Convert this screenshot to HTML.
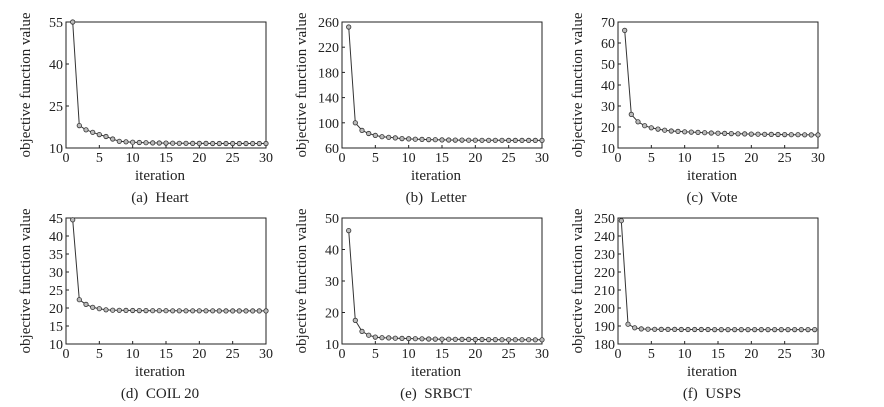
<!DOCTYPE html>
<html><head><meta charset="utf-8"><style>
html,body{margin:0;padding:0;background:#fff;}
svg{display:block;font-family:"Liberation Serif",serif;}
</style></head><body>
<svg id="s" width="884" height="407" xmlns="http://www.w3.org/2000/svg"></svg>
<script>
function dec(a,b,n,k){var r=[];for(var i=0;i<n;i++)r.push(b+(a-b)*Math.exp(-k*i));return r;}
var panels=[
 {x:66,y:22,lo:10,hi:55,ticks:[10,25,40,55],cap:"(a)  Heart",d:[55,18,16.5,15.6,14.8,14.1,13.2,12.4].concat(dec(12.2,11.6,22,0.25)),off:0},
 {x:342,y:22,lo:60,hi:260,ticks:[60,100,140,180,220,260],cap:"(b)  Letter",d:[252,100,88,83,80,78,77,76].concat(dec(75,72,22,0.2)),off:0},
 {x:618,y:22,lo:10,hi:70,ticks:[10,20,30,40,50,60,70],cap:"(c)  Vote",d:[66,26,22.5,20.6,19.6,19,18.5].concat(dec(18.1,16,23,0.1)),off:0},
 {x:66,y:218,lo:10,hi:45,ticks:[10,15,20,25,30,35,40,45],cap:"(d)  COIL 20",d:[44.5,22.3,21,20.2,19.8,19.5].concat(dec(19.4,19.2,24,0.2)),off:0},
 {x:342,y:218,lo:10,hi:50,ticks:[10,20,30,40,50],cap:"(e)  SRBCT",d:[46,17.5,14,12.8,12.2].concat(dec(12,11.3,25,0.12)),off:0},
 {x:618,y:218,lo:180,hi:250,ticks:[180,190,200,210,220,230,240,250],cap:"(f)  USPS",d:[248.5,191,189,188.4].concat(dec(188.2,188,26,0.2)),off:-0.5}
];
var W=200,H=126,h='';
panels.forEach(function(p){
 var X=function(v){return p.x+v/30*W;},Y=function(v){return p.y+H-(v-p.lo)/(p.hi-p.lo)*H;};
 h+='<rect x="'+p.x+'" y="'+p.y+'" width="'+W+'" height="'+H+'" fill="none" stroke="#222" stroke-width="1"/>';
 for(var t=0;t<=30;t+=5){h+='<line x1="'+X(t)+'" y1="'+(p.y+H)+'" x2="'+X(t)+'" y2="'+(p.y+H-3)+'" stroke="#222"/>';
  h+='<text x="'+X(t)+'" y="'+(p.y+H+14)+'" font-size="14" text-anchor="middle" fill="#222">'+t+'</text>';}
 p.ticks.forEach(function(t){h+='<line x1="'+p.x+'" y1="'+Y(t)+'" x2="'+(p.x+3)+'" y2="'+Y(t)+'" stroke="#222"/>';
  h+='<text x="'+(p.x-3)+'" y="'+(Y(t)+5)+'" font-size="14" text-anchor="end" fill="#222">'+t+'</text>';});
 var pts=p.d.map(function(v,i){return X(i+1+p.off).toFixed(1)+','+Y(v).toFixed(1);});
 h+='<polyline points="'+pts.join(' ')+'" fill="none" stroke="#333" stroke-width="1"/>';
 pts.forEach(function(q){var c=q.split(',');h+='<circle cx="'+c[0]+'" cy="'+c[1]+'" r="2.2" fill="#bbb" stroke="#333" stroke-width="0.8"/>';});
 h+='<text transform="translate('+(p.x-36)+','+(p.y+H/2)+') rotate(-90)" font-size="15" text-anchor="middle" fill="#222">objective function value</text>';
 h+='<text x="'+(p.x+W/2-6)+'" y="'+(p.y+H+32)+'" font-size="15" text-anchor="middle" fill="#222">iteration</text>';
 h+='<text x="'+(p.x+W/2-6)+'" y="'+(p.y+H+54)+'" font-size="15" text-anchor="middle" fill="#222" xml:space="preserve">'+p.cap+'</text>';
});
document.getElementById('s').innerHTML=h;
</script>
</body></html>
